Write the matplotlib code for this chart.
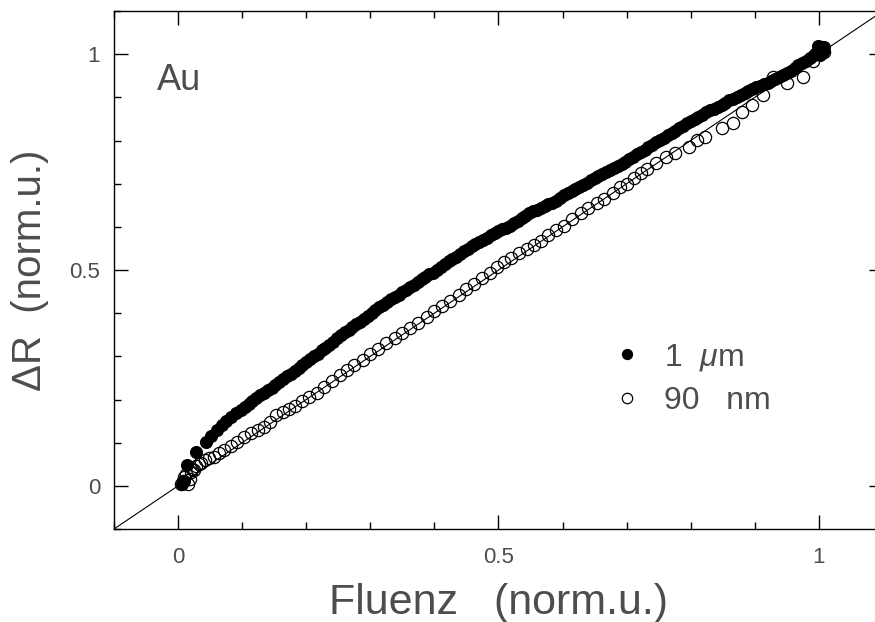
import matplotlib
matplotlib.use("Agg")
import matplotlib.pyplot as plt

plt.rcParams['font.family'] = ['Liberation Sans', 'DejaVu Sans']
plt.rcParams['mathtext.fontset'] = 'custom'
plt.rcParams['mathtext.rm'] = 'Liberation Sans'
plt.rcParams['mathtext.it'] = 'Liberation Sans:italic'

# === datos ===
# 1 um (circulos llenos)
x_1um = [0.006, 0.009, 0.014, 0.028, 0.044, 0.052, 0.061, 0.068, 0.075, 0.083,
         0.090, 0.098, 0.104, 0.110, 0.116, 0.122, 0.128, 0.134, 0.140, 0.146,
         0.152, 0.158, 0.164, 0.170, 0.176, 0.182, 0.188, 0.194, 0.200, 0.206,
         0.212, 0.218, 0.224, 0.230, 0.236, 0.242, 0.248, 0.254, 0.260, 0.266,
         0.272, 0.278, 0.284, 0.290, 0.296, 0.302, 0.308, 0.314, 0.320, 0.326,
         0.332, 0.338, 0.344, 0.350, 0.356, 0.362, 0.368, 0.374, 0.380, 0.386,
         0.392, 0.398, 0.404, 0.410, 0.416, 0.422, 0.428, 0.434, 0.440, 0.446,
         0.452, 0.458, 0.464, 0.470, 0.476, 0.482, 0.488, 0.494, 0.500, 0.506,
         0.512, 0.518, 0.524, 0.530, 0.536, 0.542, 0.548, 0.554, 0.560, 0.566,
         0.572, 0.578, 0.584, 0.590, 0.596, 0.602, 0.608, 0.614, 0.620, 0.626,
         0.632, 0.638, 0.644, 0.650, 0.656, 0.662, 0.668, 0.674, 0.680, 0.686,
         0.692, 0.698, 0.704, 0.710, 0.716, 0.722, 0.728, 0.734, 0.740, 0.746,
         0.752, 0.758, 0.764, 0.770, 0.776, 0.782, 0.788, 0.794, 0.800, 0.806,
         0.812, 0.818, 0.824, 0.830, 0.836, 0.842, 0.848, 0.854, 0.860, 0.866,
         0.872, 0.878, 0.884, 0.890, 0.896, 0.902, 0.908, 0.914, 0.920, 0.926,
         0.932, 0.938, 0.944, 0.950, 0.956, 0.962, 0.968, 0.974, 0.980, 0.986,
         0.992, 0.996, 1.000, 1.004, 1.008, 0.998, 1.002, 1.006]
y_1um = [0.005, 0.012, 0.049, 0.079, 0.102, 0.115, 0.130, 0.140, 0.150, 0.160,
         0.168, 0.176, 0.183, 0.190, 0.197, 0.204, 0.210, 0.216, 0.222, 0.227,
         0.234, 0.241, 0.248, 0.254, 0.259, 0.265, 0.272, 0.280, 0.287, 0.294,
         0.300, 0.306, 0.314, 0.320, 0.327, 0.334, 0.342, 0.350, 0.357, 0.362,
         0.368, 0.374, 0.380, 0.386, 0.393, 0.400, 0.407, 0.414, 0.420, 0.426,
         0.432, 0.438, 0.443, 0.448, 0.454, 0.460, 0.466, 0.472, 0.478, 0.484,
         0.490, 0.494, 0.499, 0.506, 0.513, 0.520, 0.526, 0.531, 0.537, 0.543,
         0.549, 0.555, 0.561, 0.566, 0.570, 0.575, 0.580, 0.585, 0.590, 0.594,
         0.598, 0.603, 0.608, 0.614, 0.620, 0.626, 0.632, 0.636, 0.640, 0.644,
         0.648, 0.652, 0.656, 0.661, 0.667, 0.673, 0.679, 0.684, 0.688, 0.692,
         0.696, 0.702, 0.708, 0.713, 0.718, 0.722, 0.727, 0.732, 0.737, 0.741,
         0.745, 0.750, 0.756, 0.762, 0.768, 0.774, 0.779, 0.784, 0.790, 0.796,
         0.801, 0.806, 0.812, 0.817, 0.822, 0.828, 0.834, 0.840, 0.845, 0.849,
         0.854, 0.859, 0.865, 0.870, 0.874, 0.878, 0.883, 0.888, 0.893, 0.897,
         0.901, 0.906, 0.911, 0.915, 0.919, 0.923, 0.927, 0.930, 0.934, 0.938,
         0.942, 0.946, 0.951, 0.957, 0.962, 0.968, 0.974, 0.980, 0.985, 0.991,
         0.997, 1.002, 1.008, 1.012, 1.016, 1.018, 0.998, 1.004]

# 90 nm (circulos abiertos)
x_90nm = [0.005, 0.008, 0.010, 0.012, 0.015, 0.018, 0.020, 0.022, 0.025, 0.028,
          0.032, 0.036, 0.042, 0.048, 0.056, 0.064, 0.072, 0.082, 0.092, 0.103,
          0.114, 0.124, 0.134, 0.144, 0.153, 0.163, 0.173, 0.183, 0.194, 0.205,
          0.216, 0.228, 0.240, 0.252, 0.263, 0.275, 0.288, 0.300, 0.312, 0.325,
          0.338, 0.350, 0.362, 0.375, 0.388, 0.400, 0.412, 0.425, 0.438, 0.450,
          0.462, 0.474, 0.486, 0.497, 0.509, 0.520, 0.532, 0.544, 0.556, 0.566,
          0.578, 0.590, 0.602, 0.615, 0.628, 0.640, 0.653, 0.665, 0.678, 0.690,
          0.700, 0.712, 0.722, 0.731, 0.745, 0.762, 0.775, 0.798, 0.809, 0.822,
          0.848, 0.866, 0.880, 0.895, 0.912, 0.928, 0.950, 0.975, 0.990, 0.998,
          1.003, 1.008]
y_90nm = [0.005, 0.012, 0.020, 0.028, 0.004, 0.015, 0.032, 0.040, 0.036, 0.045,
          0.050, 0.053, 0.060, 0.064, 0.067, 0.075, 0.083, 0.092, 0.102, 0.113,
          0.123, 0.130, 0.137, 0.148, 0.164, 0.170, 0.178, 0.186, 0.196, 0.205,
          0.215, 0.228, 0.242, 0.256, 0.268, 0.279, 0.292, 0.305, 0.318, 0.331,
          0.342, 0.354, 0.366, 0.378, 0.390, 0.404, 0.416, 0.428, 0.441, 0.455,
          0.468, 0.481, 0.494, 0.507, 0.518, 0.528, 0.539, 0.549, 0.558, 0.567,
          0.580, 0.592, 0.603, 0.618, 0.632, 0.644, 0.655, 0.665, 0.678, 0.692,
          0.700, 0.712, 0.725, 0.735, 0.748, 0.762, 0.771, 0.785, 0.801, 0.808,
          0.829, 0.840, 0.866, 0.882, 0.905, 0.947, 0.933, 0.947, 0.985, 1.010,
          1.016, 1.004]

ticks = [0, 0.5, 1]
tick_labels = ['0', '0.5', '1']

text_color = '#4d4d4d'

# === grafico ===
fig = plt.figure(figsize=(8.75, 6.22), dpi=100)
ax = fig.add_axes([114/875, 1 - 529/622, (883 - 114)/875, (529 - 11)/622])

ax.axline((0, 0), slope=1, color='black', lw=0.8, zorder=1)
ax.plot(x_1um, y_1um, 'o', color='black', markersize=8.6, mew=0.8,
        label=r'1  $\mu$m', zorder=3)
ax.plot(x_90nm, y_90nm, 'o', mfc='none', mec='black', markersize=8.8, mew=0.9,
        label='90   nm', zorder=4)

ax.set_xlim(-0.1, 1.1)
ax.set_ylim(-0.1, 1.1)

ax.set_xticks(ticks)
ax.set_xticklabels(tick_labels)
ax.set_yticks(ticks)
ax.set_yticklabels(tick_labels)
ax.set_xticks([i / 10 for i in range(-1, 12)], minor=True)
ax.set_yticks([i / 10 for i in range(-1, 12)], minor=True)
ax.tick_params(which='both', direction='in', top=True, right=True, width=1.0,
               colors='black', labelcolor=text_color, labelsize=16)
ax.tick_params(which='major', length=10)
ax.tick_params(which='minor', length=5)
ax.tick_params(axis='x', pad=13)
ax.tick_params(axis='y', pad=10)
for s in ax.spines.values():
    s.set_linewidth(1.0)

ax.set_xlabel('Fluenz   (norm.u.)', fontsize=31, color=text_color)
ax.xaxis.set_label_coords(0.5, -0.105)
ax.set_ylabel(r'ΔR  (norm.u.)', fontsize=29, color=text_color)
ax.yaxis.set_label_coords(-0.085, 0.5)

ax.text(-0.033, 0.917, 'Au', fontsize=26, color=text_color)

ax.legend(loc='center left', bbox_to_anchor=(0.655, 0.29), frameon=False,
          fontsize=23, handlelength=0.6, handletextpad=0.85, labelspacing=0.42,
          borderpad=0, borderaxespad=0, labelcolor=text_color, markerscale=0.85)

plt.savefig('out.png', dpi=100)
